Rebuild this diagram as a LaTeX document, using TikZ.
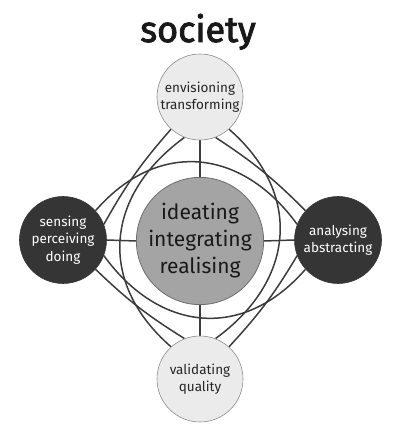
\documentclass[tikz,border=0pt]{standalone}
\usepackage{fontspec}
\setmainfont{Fira Sans}
\newfontfamily\titlefont[FakeBold=2.5]{Fira Sans}
\definecolor{linec}{HTML}{3C3C3C}
\definecolor{lightf}{HTML}{EBEBEB}
\definecolor{lightd}{HTML}{8C8C8C}
\definecolor{darkf}{HTML}{353535}
\definecolor{coref}{HTML}{A4A4A4}
\definecolor{cored}{HTML}{6E6E6E}
\pgfdeclarelayer{bg}
\pgfsetlayers{bg,main}
\begin{document}
\begin{tikzpicture}[x=1pt,y=1pt,
  ln/.style={draw=linec, line width=1.5pt},
  ring/.style={ln, looseness=1.2},
  light/.style={circle, fill=lightf, draw=lightd, line width=0.6pt, minimum size=86pt, inner sep=0pt, align=center, font=\fontsize{13.5}{17.5}\selectfont, text=black!85},
  dark/.style={circle, fill=darkf, draw=darkf, line width=0.6pt, minimum size=87pt, inner sep=0pt, align=center, font=\fontsize{13.5}{17.5}\selectfont, text=white},
  core/.style={circle, fill=coref, draw=cored, line width=0.8pt, minimum size=122pt, inner sep=0pt, align=center, font=\fontsize{21}{27}\selectfont, text=black!90}]
\useasboundingbox (0,0) rectangle (402,433);
\node[core] (C) at (200,192) {ideating\\integrating\\realising};
\node[light] (T) at (200,336) {envisioning\\transforming};
\node[light] (B) at (200,54) {validating\\quality};
\node[dark] (L) at (63,193) {sensing\\perceiving\\doing};
\node[dark] (R) at (338,193) {analysing\\abstracting};
\node[anchor=base, font=\fontsize{36}{36}\selectfont\titlefont, text=black!90] (title) at (198,391) {society};
\begin{pgfonlayer}{bg}
\draw[ln] (T.south) -- (C.north);
\draw[ln] (B.north) -- (C.south);
\draw[ln] (L.east) -- (C.west);
\draw[ln] (R.west) -- (C.east);
\draw[ring] (T.312) to[out=-41,in=36] (B.69);
\draw[ring] (R.222) to[out=-131,in=-54] (L.339);
\draw[ring] (B.132) to[out=139,in=216] (T.249);
\draw[ring] (L.42) to[out=49,in=126] (R.159);
\draw[ln] (T.291) to[bend left=6] (R.138);
\draw[ln] (R.201) to[bend left=6] (B.48);
\draw[ln] (B.111) to[bend left=6] (L.318);
\draw[ln] (L.21) to[bend left=6] (T.228);
\end{pgfonlayer}
\end{tikzpicture}
\end{document}
